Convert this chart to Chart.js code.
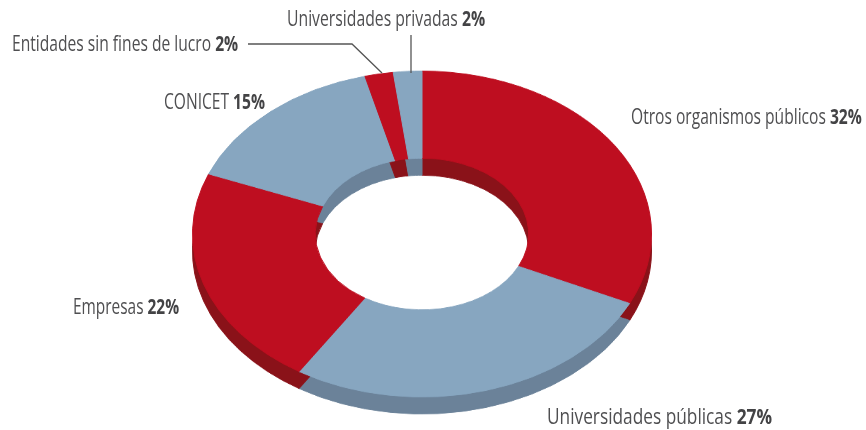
<!DOCTYPE html>
<html>
<head>
<meta charset="utf-8">
<script src="https://cdn.jsdelivr.net/npm/chart.js@4.4.0/dist/chart.umd.min.js"></script>
<style>
  body { margin: 0; background: #fff; }
  #wrap { position: relative; width: 866px; height: 430px; overflow: hidden; }
  .ring { position: absolute; left: 192px; transform: scaleY(0.71); transform-origin: 50% 50%; }
  #side { top: 21px; }
  #top { top: 4px; }
  .lbl { position: absolute; font-family: "Open Sans", sans-serif; font-size: 22px; color: #4f4f51;
         white-space: nowrap; line-height: 22px; transform-origin: 0 50%; }
  .lbl b { color: #434345; font-weight: 700; }
  svg { position: absolute; left: 0; top: 0; }
</style>
</head>
<body>
<div id="wrap">
  <canvas id="side" class="ring" width="460" height="460"></canvas>
  <canvas id="top" class="ring" width="460" height="460"></canvas>
  <svg width="866" height="430">
    <polyline points="248,44 352,44 382,73" fill="none" stroke="#555" stroke-width="1.3"/>
    <line x1="411" y1="35" x2="411" y2="73" stroke="#555" stroke-width="1.3"/>
  </svg>
  <div class="lbl" data-x="287" data-base="25" data-w="198">Universidades privadas <b>2%</b></div>
  <div class="lbl" data-x="12" data-base="50" data-w="226">Entidades sin fines de lucro <b>2%</b></div>
  <div class="lbl" data-x="164" data-base="108" data-w="101">CONICET <b>15%</b></div>
  <div class="lbl" data-x="631" data-base="123" data-w="231">Otros organismos públicos <b>32%</b></div>
  <div class="lbl" data-x="73" data-base="313" data-w="106">Empresas <b>22%</b></div>
  <div class="lbl" data-x="547" data-base="423" data-w="225">Universidades públicas <b>27%</b></div>
</div>
<script>
const categories = ['Otros organismos públicos', 'Universidades públicas', 'Empresas', 'CONICET', 'Entidades sin fines de lucro', 'Universidades privadas'];
const shares = [32, 27, 22, 15, 2, 2];
const topColors = ['#be0e20', '#87a6c0', '#be0e20', '#87a6c0', '#be0e20', '#87a6c0'];
const sideColors = ['#8a1219', '#6b8299', '#8a1219', '#6b8299', '#8a1219', '#6b8299'];

function ring(id, colors) {
    return new Chart(document.getElementById(id), {
        type: 'doughnut',
        data: {
            labels: categories,
            datasets: [{
                data: shares,
                backgroundColor: colors,
                borderColor: colors,
                borderWidth: 1
            }]
        },
        options: {
            responsive: false,
            animation: false,
            cutout: '46.5%',
            layout: { padding: 0 },
            plugins: {
                legend: { display: false },
                tooltip: { enabled: false }
            }
        }
    });
}

ring('side', sideColors);
ring('top', topColors);

// squeeze labels to the condensed widths of the original
document.querySelectorAll('.lbl').forEach(el => {
    const w = el.getBoundingClientRect().width;
    const sx = parseFloat(el.dataset.w) / w;
    el.style.left = el.dataset.x + 'px';
    // Open Sans baseline sits about 19.5px below the top at 22px line height
    el.style.top = (parseFloat(el.dataset.base) - 19.5) + 'px';
    el.style.transform = 'scaleX(' + sx.toFixed(3) + ')';
});
</script>
</body>
</html>
